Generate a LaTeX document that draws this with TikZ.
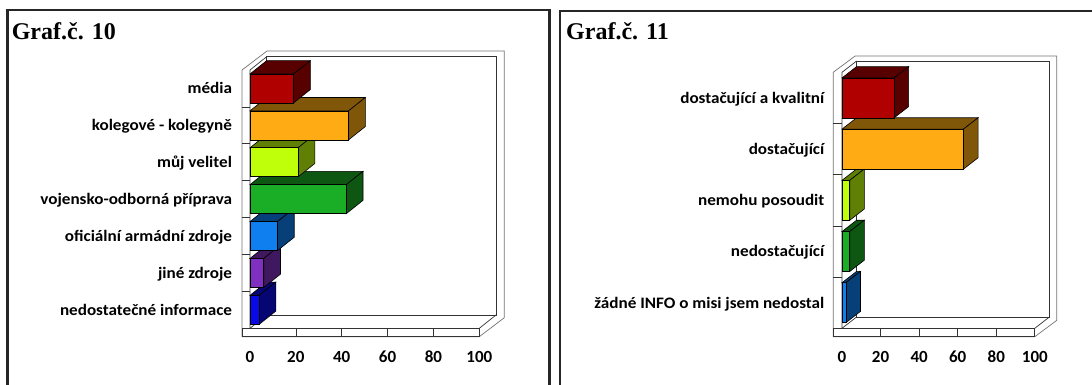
\documentclass[tikz,border=0pt]{standalone}
\usepackage{fontspec}
\setmainfont{Liberation Serif}
\newfontfamily\calibri[FakeStretch=1.07]{Carlito}
\newfontfamily\calibrinum{Carlito}
\usepackage{tikz}
\usetikzlibrary{positioning}

\definecolor{cRed}{HTML}{B00000}
\definecolor{cOrange}{HTML}{FFAB13}
\definecolor{cLime}{HTML}{BFFF0A}
\definecolor{cGreen}{HTML}{1AAE26}
\definecolor{cBlue}{HTML}{0F7FEF}
\definecolor{cPurple}{HTML}{8030C0}
\definecolor{cNavy}{HTML}{0A0AE8}

% 3D frame of one chart, read from \pXl ... \pTy
\newcommand{\plotframe}{%
  \filldraw[wall, fill=white, draw=black!55] (\pXl,\pYb) -- (\pXl,\pYt) -- (\pXl+\pDx+\pTx,\pYt+\pDy+\pTy)
    -- (\pXr+\pDx+\pTx,\pYt+\pDy+\pTy) -- (\pXr+\pDx+\pTx,\pYb+\pDy+\pTy) -- (\pXr,\pYb) -- cycle;
  \draw[wall] (\pXo+\pDx,\pYt+\pDy) rectangle (\pXr+\pDx,\pYf+\pDy);
  \draw[wall] (\pXo,\pYf) -- (\pXo,\pYt) -- (\pXo+\pDx,\pYt+\pDy);
  \draw[wall] (\pXo,\pYf) -- (\pXo+\pDx,\pYf+\pDy);
  \draw[wall] (\pXl,\pYf) rectangle (\pXr,\pYb);
  \draw[wall] (\pXr,\pYf) -- (\pXr+\pDx,\pYf+\pDy);
}
% one bar: x0, top, right end, bottom, colour
\newcommand{\cubebar}[5]{%
  \filldraw[barline, fill=#5!50!black] (#1,#2) -- (#1+\pDx,#2+\pDy) -- (#3+\pDx,#2+\pDy) -- (#3,#2) -- cycle;
  \filldraw[barline, fill=#5!50!black] (#3,#2) -- (#3+\pDx,#2+\pDy) -- (#3+\pDx,#4+\pDy) -- (#3,#4) -- cycle;
  \filldraw[barline, fill=#5] (#1,#2) rectangle (#3,#4);
}

\begin{document}
\begin{tikzpicture}[x=1pt, y=-1pt,
  panel/.style={draw=black!85, line width=2.2pt},
  wall/.style={draw=black!80, line width=0.7pt},
  barline/.style={draw=black, line width=0.6pt},
  title/.style={font=\bfseries\fontsize{24}{28}\selectfont, anchor=base west, inner sep=0pt},
  lab/.style={font=\calibri\bfseries\fontsize{16}{19}\selectfont, anchor=base east, inner sep=0pt},
  num/.style={font=\calibrinum\bfseries\fontsize{17}{20}\selectfont, anchor=base, inner sep=0pt}]
  \useasboundingbox (0,0) rectangle (1092,385);
  \clip (0,0) rectangle (1092,385);
  % Panels
  \draw[panel] (7.5,400) -- (7.5,10.3) -- (549.4,10.3) -- (549.4,400);
  \draw[panel] (560,400) -- (560,10.8) -- (1100,10.8);
  \node[title] (t10) at (11.6,40) {Graf.č. 10};
  \node[title] (t11) at (566,39.5) {Graf.č. 11};

  % Chart 10
  \def\pXl{242}\def\pXo{250}\def\pXr{479.3}
  \def\pYt{70}\def\pYf{328.3}\def\pYb{336.7}
  \def\pDx{16.7}\def\pDy{-13.3}\def\pTx{8.3}\def\pTy{-5.7}
  \plotframe
  \foreach \k in {1,...,6}
    \draw[wall] (\pXl,\pYt+\k*36.9) -- (\pXo,\pYt+\k*36.9);
  \foreach \k in {1,...,4}
    \draw[wall] (\pXo+\k*45.86,\pYf) -- (\pXo+\k*45.86,\pYb);
  \foreach \v/\col/\i in {4/cNavy/7, 6/cPurple/6, 12/cBlue/5, 42/cGreen/4, 21/cLime/3, 43/cOrange/2, 19/cRed/1} {
    \pgfmathsetmacro\bt{70+(\i-0.5)*36.9-14.5}
    \pgfmathsetmacro\be{250+\v*2.293}
    \cubebar{250}{\bt}{\be}{\bt+29}{\col}
  }
  \node[lab] (a1) at (232.2,93.8)  {média};
  \node[lab] (a2) at (232.2,130.7) {kolegové - kolegyně};
  \node[lab] (a3) at (232.2,167.6) {můj velitel};
  \node[lab] (a4) at (232.2,204.5) {vojensko-odborná příprava};
  \node[lab] (a5) at (232.2,241.4) {oficiální armádní zdroje};
  \node[lab] (a6) at (232.2,278.3) {jiné zdroje};
  \node[lab] (a7) at (232.2,315.2) {nedostatečné informace};
  \foreach \n [count=\k from 0] in {0,20,40,60,80,100}
    \node[num] (ax\k) at (250+\k*45.86,362.5) {\n};

  % Chart 11
  \def\pXl{833.2}\def\pXo{842}\def\pXr{1034.8}
  \def\pYt{72.3}\def\pYf{328.3}\def\pYb{336.7}
  \def\pDx{14.6}\def\pDy{-11.3}\def\pTx{7.3}\def\pTy{-5}
  \plotframe
  \foreach \k in {1,...,4}
    \draw[wall] (\pXl,\pYt+\k*51.2) -- (\pXo,\pYt+\k*51.2);
  \foreach \k in {1,...,4}
    \draw[wall] (\pXo+\k*38.56,\pYf) -- (\pXo+\k*38.56,\pYb);
  \foreach \v/\col/\i in {2/cBlue/5, 4/cGreen/4, 4/cLime/3, 63/cOrange/2, 27/cRed/1} {
    \pgfmathsetmacro\bt{72.3+(\i-0.5)*51.2-20}
    \pgfmathsetmacro\be{842+\v*1.928}
    \cubebar{842}{\bt}{\be}{\bt+40}{\col}
  }
  \node[lab] (b1) at (824.5,103.2) {dostačující a kvalitní};
  \node[lab] (b2) at (824.5,154.4) {dostačující};
  \node[lab] (b3) at (824.5,205.6) {nemohu posoudit};
  \node[lab] (b4) at (824.5,256.8) {nedostačující};
  \node[lab] (b5) at (824.5,308.0) {žádné INFO o misi jsem nedostal};
  \foreach \n [count=\k from 0] in {0,20,40,60,80,100}
    \node[num] (bx\k) at (842+\k*38.56,362.5) {\n};
\end{tikzpicture}
\end{document}
